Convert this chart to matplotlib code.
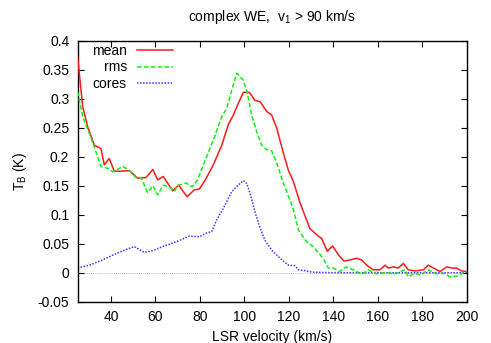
"""complex WE spectrum: mean, rms and cores brightness temperature vs LSR velocity."""

import matplotlib

matplotlib.use("Agg")
import matplotlib.pyplot as plt

# mean profile (red, solid)
mean_v = [25, 27.3, 29.5, 32.5, 35.5, 37, 39.2, 41.5, 44.5, 48.2, 52, 55.7, 58.8, 61, 63.5,
          67.7, 70.4, 74.2, 77.5, 79.7, 82.4, 86, 89.8, 92.7, 95, 97.2, 99.5, 102.2, 104.7,
          107, 110, 112.2, 114.5, 117.5, 119.7, 122, 125, 129.4, 133.2, 134.7, 137.2, 139.6,
          142.2, 144.7, 147.4, 150.4, 152.7, 154.9, 157.9, 160.9, 163.2, 164.6, 166.9, 169.1,
          171.4, 173.6, 176.6, 180.4, 182.6, 184.9, 187.9, 190.9, 193.1, 195.4, 197.6, 200]
mean_t = [0.372, 0.286, 0.252, 0.220, 0.214, 0.186, 0.197, 0.175, 0.175, 0.176, 0.163, 0.164,
          0.178, 0.160, 0.166, 0.141, 0.151, 0.131, 0.143, 0.144, 0.160, 0.186, 0.220, 0.255,
          0.272, 0.292, 0.311, 0.311, 0.297, 0.295, 0.278, 0.272, 0.249, 0.206, 0.177, 0.157,
          0.120, 0.076, 0.063, 0.059, 0.037, 0.046, 0.031, 0.020, 0.022, 0.025, 0.022, 0.013,
          0.005, 0.005, 0.013, 0.008, 0.010, 0.008, 0.016, 0.005, 0.003, 0.005, 0.013, 0.008,
          0.002, 0.010, 0.008, 0.008, 0.003, 0.002]

# rms profile (green, dashed)
rms_v = [25, 27.3, 30.3, 32.5, 35.5, 38.5, 40.8, 45.3, 48.2, 51.2, 53.5, 56.5, 58.8, 61, 63.5,
         66.2, 68.5, 69.9, 73.7, 76.4, 79, 80, 83, 86, 89.8, 92, 94.3, 96.5, 99.5, 101.3, 103.2,
         105.5, 107.7, 110, 112.2, 114.5, 117.5, 120.5, 122, 124.2, 128, 130.9, 134, 135.7,
         137.7, 139.9, 142.9, 145.6, 148.9, 152.7, 155.6, 159.4, 163.9, 167.6, 172.1, 173.6,
         176.6, 179, 182.6, 186.4, 189.4, 192.4, 195.4, 199, 200]
rms_t = [0.312, 0.269, 0.240, 0.217, 0.183, 0.180, 0.174, 0.183, 0.177, 0.164, 0.164, 0.138,
         0.150, 0.134, 0.151, 0.148, 0.140, 0.150, 0.155, 0.148, 0.160, 0.171, 0.200, 0.229,
         0.269, 0.283, 0.315, 0.344, 0.332, 0.309, 0.272, 0.243, 0.220, 0.212, 0.210, 0.189,
         0.154, 0.125, 0.108, 0.074, 0.053, 0.045, 0.031, 0.022, 0.008, 0.008, 0.002, 0.010,
         0.005, -0.003, 0.005, -0.002, 0.000, -0.002, 0.005, -0.007, -0.001, -0.004, 0.005,
         -0.002, -0.001, -0.007, -0.006, 0.001, 0.002]

# cores profile (blue, dotted)
cores_v = [25, 30.3, 36.3, 42.3, 46.8, 50.5, 55, 58.8, 63.2, 69.2, 75.2, 79.7, 82.7, 85.3,
           87.5, 90.5, 94.3, 97.2, 99.5, 101, 102.5, 104.7, 107, 109.2, 112.2, 116, 119.7,
           122.7, 124.2, 126.5, 130.2, 140, 160, 180, 200]
cores_t = [0.008, 0.013, 0.022, 0.033, 0.040, 0.045, 0.035, 0.038, 0.045, 0.053, 0.063, 0.062,
           0.068, 0.071, 0.091, 0.111, 0.140, 0.151, 0.159, 0.154, 0.137, 0.105, 0.077, 0.056,
           0.039, 0.025, 0.013, 0.012, 0.005, 0.004, 0.001, 0.000, 0.000, 0.000, 0.000]

x_ticks = [40, 60, 80, 100, 120, 140, 160, 180, 200]
y_ticks = [-0.05, 0, 0.05, 0.1, 0.15, 0.2, 0.25, 0.3, 0.35, 0.4]
y_tick_labels = ["-0.05", "0", "0.05", "0.1", "0.15", "0.2", "0.25", "0.3", "0.35", "0.4"]

plt.rcParams["font.family"] = ["Liberation Sans", "DejaVu Sans"]
plt.rcParams["font.size"] = 10

fig = plt.figure(figsize=(4.91, 3.43), dpi=100)
ax = fig.add_axes([77.6 / 491, 41.3 / 343, 389.4 / 491, 261 / 343])

ax.axhline(0, color="#a0a0a0", lw=0.6, ls=(0, (1, 1.5)), zorder=1)
ax.plot(mean_v, mean_t, color="#ff1a1a", lw=1.1, label="mean", zorder=3)
ax.plot(rms_v, rms_t, color="#11ee11", lw=1.1, ls=(0, (3, 1.5)), label="rms", zorder=3)
ax.plot(cores_v, cores_t, color="#3a3aff", lw=1.1, ls=(0, (1, 1)), label="cores", zorder=2)

ax.set_xlim(25, 200)
ax.set_ylim(-0.05, 0.4)
ax.set_xticks(x_ticks)
ax.set_yticks(y_ticks)
ax.set_yticklabels(y_tick_labels)
ax.tick_params(direction="in", length=4.5, width=0.8, top=True, right=True, pad=6)
for s in ax.spines.values():
    s.set_linewidth(1.0)

ax.set_xlabel("LSR velocity (km/s)", labelpad=4)
ax.set_ylabel("T$_\\mathregular{B}$ (K)", labelpad=6)
ax.set_title("complex WE,  v$_\\mathregular{1}$ > 90 km/s", fontsize=10, pad=14)

ax.legend(loc="upper left", bbox_to_anchor=((92 - 77.6) / 389.4, 1 - 3 / 261),
          frameon=False, markerfirst=False, borderpad=0, handlelength=2.6,
          handletextpad=0.7, labelspacing=0.2, borderaxespad=0)

fig.savefig("out.png", dpi=100)
